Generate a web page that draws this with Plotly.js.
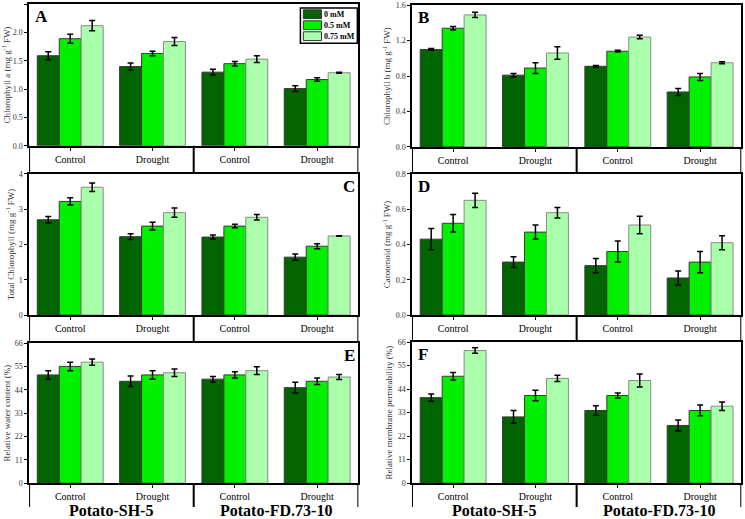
<!DOCTYPE html>
<html>
<head>
<meta charset="utf-8">
<script src="https://cdn.plot.ly/plotly-3.0.1.min.js"></script>
<style>
  html, body { margin: 0; padding: 0; background: #fff; }
  #chart { width: 745px; height: 519px; }
</style>
</head>
<body>
<div id="chart"></div>
<script>
// categories
var groups = ['Control', 'Drought', 'Control', 'Drought'];
var doses = ['0 mM', '0.5 mM', '0.75 mM'];
var varieties = ['Potato-SH-5', 'Potato-FD.73-10'];

// means, one row per dose (0, 0.5, 0.75 mM)
var chlA = [[1.59, 1.40, 1.30, 1.01], [1.89, 1.63, 1.45, 1.17], [2.12, 1.84, 1.53, 1.29]];
var chlAErr = [[0.07, 0.06, 0.05, 0.05], [0.08, 0.04, 0.04, 0.03], [0.09, 0.07, 0.06, 0.01]];
var chlB = [[1.10, 0.81, 0.91, 0.62], [1.34, 0.89, 1.08, 0.79], [1.49, 1.06, 1.24, 0.95]];
var chlBErr = [[0.01, 0.02, 0.01, 0.04], [0.02, 0.06, 0.01, 0.04], [0.03, 0.07, 0.02, 0.01]];
var totChl = [[2.70, 2.22, 2.21, 1.64], [3.22, 2.52, 2.52, 1.95], [3.62, 2.90, 2.77, 2.24]];
var totChlErr = [[0.09, 0.08, 0.06, 0.09], [0.10, 0.11, 0.05, 0.07], [0.12, 0.13, 0.08, 0.01]];
var carot = [[0.43, 0.30, 0.28, 0.21], [0.52, 0.47, 0.36, 0.30], [0.65, 0.58, 0.51, 0.41]];
var carotErr = [[0.06, 0.03, 0.04, 0.04], [0.05, 0.04, 0.06, 0.06], [0.04, 0.03, 0.05, 0.04]];
var rwc = [[51, 48, 49, 45], [55, 51, 51, 48], [57, 52, 53, 50]];
var rwcErr = [[2.0, 2.5, 1.3, 2.5], [2.0, 2.0, 1.5, 1.5], [1.5, 1.8, 1.8, 1.2]];
var rmp = [[40, 31, 34, 27], [50, 41, 41, 34], [62, 49, 48, 36]];
var rmpErr = [[1.7, 3.0, 2.2, 2.5], [1.8, 2.5, 1.2, 2.5], [1.3, 1.5, 3.0, 2.0]];

var colors = ['#006400', '#00f000', '#aaffaa'];
var edges = ['#3a3a3a', '#3a3a3a', '#8a8a8a'];
var serif = 'Liberation Serif';

var panels = [
    {id: '', mean: chlA, err: chlAErr, title: 'Chlorophyll a (mg g<sup>-1</sup> FW)',
     range: [0, 2.5], dtick: 0.5, fmt: '.1f', letter: 'A', right: false,
     xdom: [0.039, 0.481], ydom: [0.719, 0.992], strip: 0.665},
    {id: '2', mean: chlB, err: chlBErr, title: 'Chlorophyll b (mg g<sup>-1</sup> FW)',
     range: [0, 1.6], dtick: 0.4, fmt: '.1f', letter: 'B', right: false,
     xdom: [0.553, 0.995], ydom: [0.717, 0.990], strip: 0.665},
    {id: '3', mean: totChl, err: totChlErr, title: 'Total Chlorophyll (mg g<sup>-1</sup> FW)',
     range: [0, 4], dtick: 1, fmt: 'd', letter: 'C', right: true,
     xdom: [0.039, 0.481], ydom: [0.393, 0.665], strip: 0.341},
    {id: '4', mean: carot, err: carotErr, title: 'Carotenoid (mg g<sup>-1</sup> FW)',
     range: [0, 0.8], dtick: 0.2, fmt: '.1f', letter: 'D', right: false,
     xdom: [0.553, 0.995], ydom: [0.393, 0.665], strip: 0.341},
    {id: '5', mean: rwc, err: rwcErr, title: 'Relative water content (%)',
     range: [0, 66], dtick: 11, fmt: 'd', letter: 'E', right: true,
     xdom: [0.039, 0.481], ydom: [0.069, 0.339], strip: 0.023},
    {id: '6', mean: rmp, err: rmpErr, title: 'Relative membrane permeability (%)',
     range: [0, 66], dtick: 11, fmt: 'd', letter: 'F', right: false,
     xdom: [0.553, 0.995], ydom: [0.069, 0.341], strip: 0.023}
];

var xPos = groups.map(function (g, i) { return i; });

var data = [];
var layout = {
    width: 745,
    height: 519,
    margin: {l: 0, r: 0, t: 0, b: 0},
    paper_bgcolor: '#ffffff',
    plot_bgcolor: '#ffffff',
    barmode: 'group',
    bargap: 0.2,
    bargroupgap: 0,
    font: {family: serif, color: '#000', size: 9},
    showlegend: false,
    shapes: [],
    annotations: []
};

panels.forEach(function (p, k) {
    var xa = 'x' + p.id, ya = 'y' + p.id;
    for (var d = 0; d < doses.length; d++) {
        data.push({
            type: 'bar',
            name: doses[d],
            x: xPos,
            y: p.mean[d],
            xaxis: xa, yaxis: ya,
            marker: {color: colors[d], line: {color: edges[d], width: 1}},
            error_y: {type: 'data', array: p.err[d], visible: true,
                      color: '#000', thickness: 1.5, width: 3}
        });
    }
    layout['xaxis' + p.id] = {
        domain: p.xdom, anchor: ya, range: [-0.5, 3.5],
        tickvals: xPos, ticktext: groups,
        ticks: 'outside', ticklen: 3, tickcolor: '#000',
        showline: true, linecolor: '#000', linewidth: 1.5, mirror: true,
        showgrid: false, zeroline: false,
        tickfont: {family: serif, size: 10}
    };
    layout['yaxis' + p.id] = {
        domain: p.ydom, anchor: xa, range: p.range, dtick: p.dtick,
        tickformat: p.fmt,
        ticks: 'outside', ticklen: 3, tickcolor: '#000',
        showline: true, linecolor: '#000', linewidth: 1.5, mirror: true,
        showgrid: false, zeroline: false,
        tickfont: {family: serif, size: 8, color: '#333'},
        title: {text: p.title, font: {family: serif, size: 9, color: '#333'}, standoff: 3}
    };
    // category strip below each panel
    [-0.5, 1.5, 3.5].forEach(function (xv) {
        layout.shapes.push({
            type: 'line', xref: xa, yref: 'paper',
            x0: xv, x1: xv, y0: p.ydom[0], y1: p.strip,
            line: {color: '#000', width: 2}
        });
    });
    layout.annotations.push({
        text: p.letter, showarrow: false,
        xref: xa + ' domain', yref: ya + ' domain',
        x: p.right ? 0.995 : 0.012, xanchor: p.right ? 'right' : 'left',
        y: 0.995, yanchor: 'top',
        font: {family: serif, size: 17, weight: 'bold'}
    });
    if (p.strip < 0.1) {
        varieties.forEach(function (v, j) {
            layout.annotations.push({
                text: v, showarrow: false,
                xref: xa, yref: 'paper',
                x: j * 2 + 0.5, xanchor: 'center',
                y: 0.016, yanchor: 'middle', borderpad: 0,
                font: {family: serif, size: 16, weight: 'bold'}
            });
        });
    }
});

// legend box inside panel A (drawn as key, like the original figure)
var lx0 = 0.824, lx1 = 0.997, ly1 = 0.972, rowH = 0.0775;
layout.shapes.push({
    type: 'rect', xref: 'x domain', yref: 'y domain',
    x0: lx0, x1: lx1, y0: ly1 - 3 * rowH - 0.015, y1: ly1,
    fillcolor: '#ffffff', line: {color: '#000', width: 1.5}
});
doses.forEach(function (name, d) {
    var top = ly1 - 0.012 - d * rowH;
    layout.shapes.push({
        type: 'rect', xref: 'x domain', yref: 'y domain',
        x0: lx0 + 0.009, x1: lx0 + 0.064, y0: top - 0.062, y1: top,
        fillcolor: colors[d], line: {color: '#333', width: 1}
    });
    layout.annotations.push({
        text: name, showarrow: false,
        xref: 'x domain', yref: 'y domain',
        x: lx0 + 0.068, xanchor: 'left',
        y: top - 0.031, yanchor: 'middle', borderpad: 0,
        font: {family: serif, size: 8, weight: 'bold'}
    });
});

Plotly.newPlot('chart', data, layout, {displayModeBar: false});
</script>
</body>
</html>
